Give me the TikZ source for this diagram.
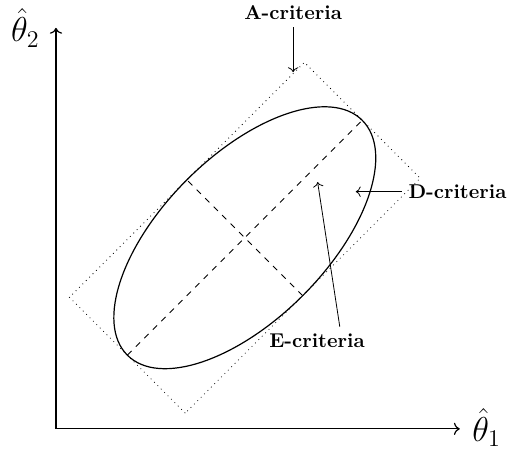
\documentclass[tikz,border=0pt]{standalone}
\usepackage{tikz}
\usetikzlibrary{arrows.meta, positioning}

\begin{document}
\begin{tikzpicture}[crit/.style={font=\bfseries}, axlabel/.style={font=\LARGE}]
    \useasboundingbox (-0.984,-0.37) rectangle (7.93,7.54);
    % axes
    \coordinate (o) at (0,0);
    \coordinate (xend) at (7.10,0);
    \coordinate (yend) at (0,7.05);
    \draw[semithick, ->] (o) -- (xend);
    \draw[semithick, ->] (o) -- (yend);
    \node[axlabel] (th1) at (7.57,0.02) {$\hat{\theta}_1$};
    \node[axlabel] (th2) at (-0.54,7.05) {$\hat{\theta}_2$};
    % confidence ellipse, its axes and bounding box
    \coordinate (c) at (3.32,3.36);
    \begin{scope}[shift={(c)}, rotate=45]
      \coordinate (maj1) at (-2.92,0);
      \coordinate (maj2) at (2.92,0);
      \coordinate (min1) at (0,-1.44);
      \coordinate (min2) at (0,1.44);
      \draw[dotted] (-2.92,-1.44) rectangle (2.92,1.44);
      \draw[semithick] (0,0) ellipse [x radius=2.92, y radius=1.44];
    \end{scope}
    \draw[dashed] (maj1) -- (maj2);
    \draw[dashed] (min1) -- (min2);
    % criteria
    \node[crit] (acrit) at (4.17,7.31) {A-criteria};
    \node[crit] (dcrit) at (7.06,4.17) {D-criteria};
    \node[crit] (ecrit) at (4.59,1.55) {E-criteria};
    \coordinate (atip) at (4.17,6.27);
    \coordinate (dtip) at (5.27,4.17);
    \coordinate (etip) at (4.60,4.34);
    \draw[->] (acrit) -- (atip);
    \draw[->] (dcrit) -- (dtip);
    \draw[->] ([xshift=0.4cm]ecrit.north) -- (etip);
  \end{tikzpicture}
\end{document}
